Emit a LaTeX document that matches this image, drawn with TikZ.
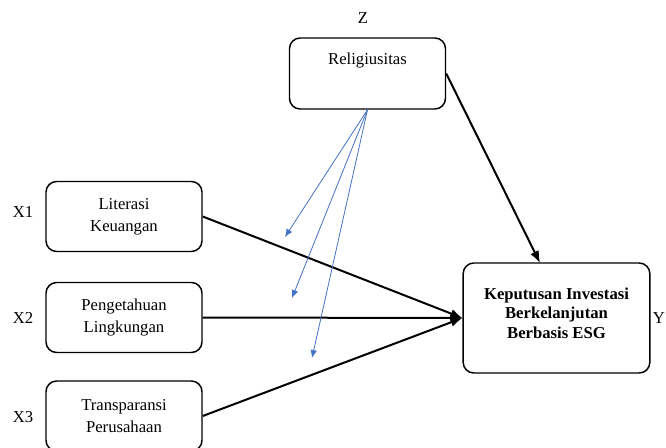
\documentclass[tikz,border=0pt]{standalone}
\usepackage{fontspec}
\setmainfont{Liberation Serif}
\usetikzlibrary{arrows.meta}
\definecolor{birumod}{RGB}{68,114,196}

\begin{document}
\begin{tikzpicture}[x=0.75pt, y=-0.75pt,
	kotak/.style={draw, line width=1.1pt, rounded corners=8pt, minimum width=117pt, minimum height=52.5pt, align=center, font=\fontsize{12.5}{16.3}\selectfont},
	teks/.style={font=\fontsize{12.5}{14}\selectfont},
	panah/.style={line width=1.5pt, -{Latex[length=9pt,width=7pt]}},
	moderasi/.style={draw=birumod, line width=0.6pt, -{Latex[length=6pt,width=5pt]}}]
	\useasboundingbox (0,0) rectangle (666,447);
	% die moderator box oben
	\node[teks] (z) at (363,18) {Z};
	\node[kotak, minimum height=53.25pt, label={[teks, anchor=north, yshift=-8pt]north:Religiusitas}] (religi) at (367.5,73.5) {};
	% die boxen links mit annotation
	\node[kotak] (literasi) at (124,216.5) {Literasi\\Keuangan};
	\node[teks] (x1) at (23,212) {X1};
	\node[kotak] (pengetahuan) at (124,317.5) {Pengetahuan\\Lingkungan};
	\node[teks] (x2) at (23,318) {X2};
	\node[kotak] (transparansi) at (124,416) {Transparansi\\Perusahaan};
	\node[teks] (x3) at (23,417) {X3};
	% die box rechts
	\node[kotak, minimum width=140pt, minimum height=82.5pt, label={[align=center, yshift=3.75pt, font=\bfseries\fontsize{12.5}{14.6}\selectfont]center:Keputusan Investasi\\Berkelanjutan\\Berbasis ESG}] (keputusan) at (556.5,318) {};
	\node[teks] (y) at (659,318) {Y};
	% die pfeile
	\draw[panah] (literasi.east) -- (keputusan.west);
	\draw[panah] (pengetahuan.east) -- (keputusan.west);
	\draw[panah] (transparansi.east) -- (keputusan.west);
	\coordinate (kz) at (540,263);
	\draw[panah] (religi.east) -- (kz);
	% moderation
	\coordinate (m1) at (285,237);
	\coordinate (m2) at (292,298);
	\coordinate (m3) at (312,358);
	\draw[moderasi] (religi.south) -- (m1);
	\draw[moderasi] (religi.south) -- (m2);
	\draw[moderasi] (religi.south) -- (m3);
\end{tikzpicture}
\end{document}
